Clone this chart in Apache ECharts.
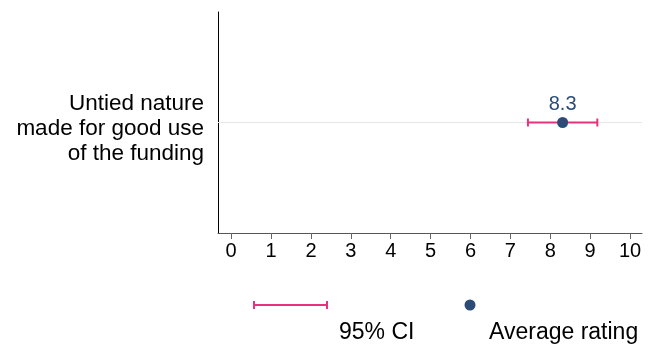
<!DOCTYPE html>
<html>
<head>
<meta charset="utf-8">
<script src="https://cdn.jsdelivr.net/npm/echarts@6/dist/echarts.min.js"></script>
<style>
html,body{margin:0;padding:0;background:#fff;}
#chart{width:655px;height:349px;}
</style>
</head>
<body>
<div id="chart"></div>
<script>
const categories = ['Untied nature\nmade for good use\nof the funding'];
const meanRating = [8.31];
const ciLow = [7.44];
const ciHigh = [9.18];
const xTicks = [0, 1, 2, 3, 4, 5, 6, 7, 8, 9, 10];
const legendLabels = ['95% CI', 'Average rating'];

const FONT = '"Liberation Sans", Arial, sans-serif';
const PINK = '#e8327d';
const BLUE = '#2c4c78';

const chart = echarts.init(document.getElementById('chart'), null, {renderer: 'canvas'});

const ciData = categories.map((c, i) => [ciLow[i], ciHigh[i], i]);
const meanData = categories.map((c, i) => [meanRating[i], c]);

chart.setOption({
  animation: false,
  backgroundColor: '#fff',
  grid: {left: 218, right: 13, top: 12, bottom: 116, containLabel: false},
  xAxis: {
    type: 'value',
    min: -0.33,
    max: 10.3,
    axisLine: {show: true, onZero: false, lineStyle: {color: '#555', width: 1}},
    axisTick: {show: true, customValues: xTicks, length: 6, lineStyle: {color: '#666'}},
    axisLabel: {customValues: xTicks, margin: 8, fontSize: 20, color: '#000', fontFamily: FONT},
    splitLine: {show: false}
  },
  yAxis: {
    type: 'category',
    data: categories,
    axisLine: {show: true, onZero: false, lineStyle: {color: '#000', width: 1}},
    axisTick: {show: false},
    axisLabel: {
      margin: 14, color: '#000', align: 'right',
      formatter: v => v.split('\n').map(s => '{n|' + s + '}').join('\n'),
      rich: {
        n: {fontSize: 22.5, lineHeight: 25, fontFamily: FONT, color: '#000', padding: [12, 0, 0, 0]}
      }
    },
    splitLine: {show: false}
  },
  series: [
    {
      type: 'custom',
      name: legendLabels[0],
      data: ciData,
      z: 3,
      renderItem: function (params, api) {
        const y = api.value(2);
        const p1 = api.coord([api.value(0), y]);
        const p2 = api.coord([api.value(1), y]);
        const h = 4;
        const style = {stroke: PINK, lineWidth: 2};
        return {
          type: 'group',
          children: [
            {type: 'line', shape: {x1: p1[0], y1: p1[1], x2: p2[0], y2: p2[1]}, style},
            {type: 'line', shape: {x1: p1[0], y1: p1[1] - h, x2: p1[0], y2: p1[1] + h}, style},
            {type: 'line', shape: {x1: p2[0], y1: p2[1] - h, x2: p2[0], y2: p2[1] + h}, style}
          ]
        };
      }
    },
    {
      type: 'scatter',
      name: legendLabels[1],
      data: meanData,
      symbol: 'circle',
      symbolSize: 11,
      z: 4,
      itemStyle: {color: BLUE, opacity: 1},
      label: {
        show: true,
        position: 'top',
        distance: 3,
        fontSize: 20,
        fontFamily: FONT,
        color: BLUE,
        formatter: p => p.value[0].toFixed(1)
      },
      markLine: {
        silent: true,
        symbol: 'none',
        z: 1,
        label: {show: false},
        lineStyle: {color: '#e6e6e6', width: 1, type: 'solid'},
        data: [{yAxis: categories[0]}]
      }
    }
  ],
  graphic: [
    {type: 'line', shape: {x1: 254, y1: 305, x2: 327, y2: 305}, style: {stroke: PINK, lineWidth: 2}},
    {type: 'line', shape: {x1: 254, y1: 301, x2: 254, y2: 309}, style: {stroke: PINK, lineWidth: 2}},
    {type: 'line', shape: {x1: 327, y1: 301, x2: 327, y2: 309}, style: {stroke: PINK, lineWidth: 2}},
    {type: 'circle', shape: {cx: 470, cy: 305, r: 5.5}, style: {fill: BLUE}},
    {type: 'text', left: 339, top: 321, style: {text: legendLabels[0], font: '23px ' + FONT, fill: '#000'}},
    {type: 'text', left: 489, top: 321, style: {text: legendLabels[1], font: '23px ' + FONT, fill: '#000'}}
  ]
});
</script>
</body>
</html>
